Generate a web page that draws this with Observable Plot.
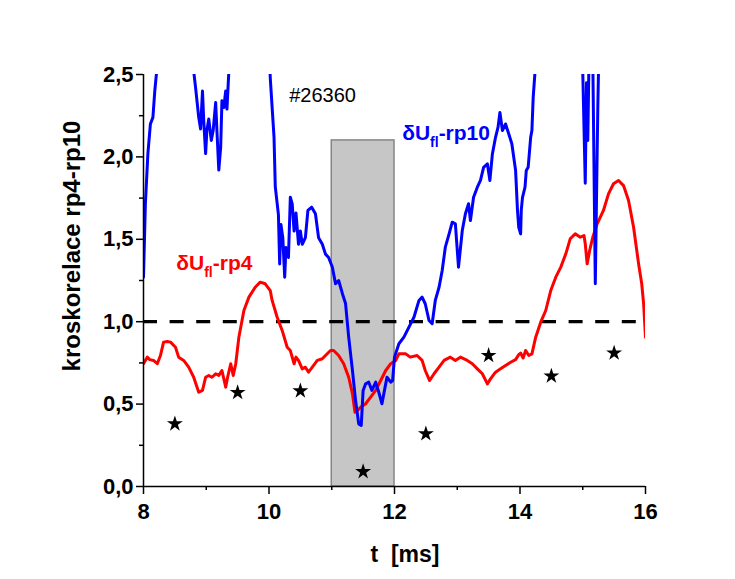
<!DOCTYPE html>
<html><head><meta charset="utf-8">
<script src="https://cdn.jsdelivr.net/npm/d3@7"></script>
<script src="https://cdn.jsdelivr.net/npm/@observablehq/plot@0.6"></script>
<style>
body{margin:0;background:#fff;}
svg{font-family:"Liberation Sans",Arial,sans-serif;}
</style></head><body><div id="chart"></div>
<script>
// red curve: δUfl-rp4
const redT = [8.00,8.06,8.10,8.16,8.22,8.27,8.32,8.38,8.43,8.51,8.56,8.64,8.72,8.80,8.88,8.94,8.99,9.04,9.09,9.15,9.20,9.25,9.31,9.34,9.39,9.43,9.47,9.52,9.60,9.68,9.78,9.86,9.94,10.02,10.05,10.13,10.21,10.29,10.34,10.40,10.43,10.47,10.53,10.58,10.63,10.69,10.77,10.85,10.90,10.98,11.03,11.11,11.19,11.27,11.33,11.37,11.41,11.46,11.54,11.62,11.70,11.78,11.86,11.94,12.02,12.07,12.18,12.25,12.36,12.44,12.49,12.56,12.63,12.71,12.79,12.89,12.97,13.05,13.16,13.24,13.32,13.40,13.48,13.53,13.61,13.69,13.77,13.85,13.93,13.98,14.01,14.05,14.09,14.14,14.19,14.25,14.33,14.41,14.49,14.57,14.65,14.73,14.80,14.88,14.96,15.02,15.04,15.07,15.11,15.16,15.23,15.28,15.33,15.41,15.49,15.57,15.65,15.73,15.81,15.89,15.94,15.97,16.00];
const redV = [0.745,0.785,0.770,0.765,0.745,0.795,0.876,0.880,0.876,0.845,0.785,0.765,0.724,0.663,0.572,0.583,0.663,0.674,0.663,0.684,0.674,0.704,0.603,0.663,0.745,0.674,0.745,0.906,1.068,1.149,1.209,1.240,1.230,1.189,1.129,1.027,0.947,0.845,0.825,0.745,0.785,0.765,0.714,0.724,0.694,0.724,0.765,0.775,0.795,0.825,0.825,0.795,0.745,0.663,0.562,0.451,0.461,0.481,0.502,0.542,0.583,0.643,0.704,0.745,0.765,0.805,0.805,0.785,0.795,0.765,0.704,0.643,0.684,0.724,0.765,0.785,0.765,0.785,0.765,0.745,0.714,0.684,0.623,0.653,0.694,0.714,0.734,0.754,0.770,0.800,0.810,0.780,0.825,0.795,0.805,0.906,0.997,1.068,1.189,1.270,1.331,1.412,1.503,1.533,1.513,1.523,1.473,1.351,1.432,1.513,1.594,1.634,1.675,1.776,1.837,1.857,1.826,1.735,1.573,1.351,1.230,1.109,0.906];
// blue curve: δUfl-rp10 (values above 2.5 run off the top of the frame)
const blueT = [8.00,8.03,8.07,8.11,8.15,8.18,8.21,8.25,8.76,8.80,8.83,8.88,8.91,8.94,8.96,8.99,9.01,9.04,9.08,9.11,9.15,9.17,9.20,9.23,9.25,9.28,9.31,9.33,9.36,9.40,9.98,10.02,10.08,10.10,10.15,10.17,10.19,10.22,10.25,10.27,10.31,10.34,10.37,10.40,10.43,10.47,10.50,10.53,10.58,10.62,10.68,10.74,10.79,10.85,10.90,10.95,11.01,11.06,11.11,11.17,11.22,11.27,11.33,11.38,11.43,11.47,11.50,11.54,11.59,11.64,11.70,11.75,11.80,11.85,11.88,11.94,11.97,12.00,12.07,12.15,12.23,12.31,12.39,12.44,12.49,12.55,12.60,12.65,12.71,12.76,12.81,12.87,12.92,12.97,13.02,13.08,13.13,13.18,13.21,13.26,13.32,13.37,13.42,13.48,13.52,13.56,13.61,13.65,13.68,13.72,13.77,13.82,13.87,13.93,13.96,13.98,14.01,14.02,14.04,14.08,14.10,14.13,14.17,14.19,14.21,14.24,14.28,14.98,15.00,15.04,15.06,15.08,15.10,15.13,15.16,15.20,15.24,15.27];
const blueV = [1.27,1.716,2.02,2.20,2.24,2.40,2.52,2.9,2.9,2.52,2.42,2.24,2.17,2.40,2.22,2.02,2.16,2.23,2.10,2.16,2.33,2.16,1.92,2.06,2.34,2.30,2.40,2.29,2.52,2.9,2.9,2.48,2.12,1.82,1.65,1.35,1.59,1.51,1.27,1.45,1.39,1.755,1.715,1.55,1.66,1.47,1.55,1.47,1.51,1.675,1.695,1.655,1.51,1.47,1.41,1.39,1.33,1.23,1.25,1.17,1.11,0.906,0.704,0.52,0.38,0.37,0.583,0.623,0.633,0.583,0.633,0.572,0.502,0.603,0.663,0.633,0.643,0.785,0.866,0.906,0.967,1.027,1.129,1.149,1.109,1.007,0.988,1.129,1.209,1.311,1.452,1.533,1.604,1.594,1.331,1.553,1.655,1.716,1.614,1.755,1.816,1.857,1.937,1.958,1.857,2.018,2.119,2.18,2.27,2.16,2.20,2.14,2.08,1.917,1.675,1.573,1.533,1.675,1.755,1.816,1.917,1.937,2.119,2.16,2.36,2.52,2.9,2.9,2.52,1.84,2.45,2.10,2.6,2.9,2.6,1.23,2.3,2.9];
// stars
const starT = [8.5,9.5,10.5,11.5,12.5,13.5,14.5,15.5];
const starV = [0.38,0.57,0.58,0.09,0.32,0.795,0.67,0.81];
// shaded interval
const shadeX1 = [11], shadeX2 = [12], shadeY2 = [2.1];
const refLevel = [1.0];
// ticks
const xTicks = [8,10,12,14,16];
const xMinor = [9,11,13,15];
const yTicks = [0,0.5,1.0,1.5,2.0,2.5];
const yMinor = [0.25,0.75,1.25,1.75,2.25];
// texts
const shotLabel = "#26360";
const yLabel = "kroskorelace rp4-rp10";
const xLabel = "t  [ms]";
const label10 = {t: 12.13, v: 2.10, main: "δU", sub: "fl", rest: "-rp10", color: "#0000ff"};
const label4 = {t: 8.53, v: 1.31, main: "δU", sub: "fl", rest: "-rp4", color: "#ff0000"};
const shotPos = {t: 10.33, v: 2.33};

const red = redT.map((t, i) => ({t, v: redV[i]}));
const blue = blueT.map((t, i) => ({t, v: blueV[i]}));
const stars = starT.map((t, i) => ({t, v: starV[i]}));
const shade = shadeX1.map((x1, i) => ({x1, x2: shadeX2[i], y1: 0, y2: shadeY2[i]}));
const fmt = d => d.toFixed(1).replace(".", ",");

const chart = Plot.plot({
  width: 735, height: 579,
  marginLeft: 143, marginRight: 90, marginTop: 74, marginBottom: 93,
  x: {domain: [8, 16]},
  y: {domain: [0, 2.5]},
  style: {fontFamily: "'Liberation Sans', Arial, sans-serif", background: "white", color: "black"},
  marks: [
    Plot.rect(shade, {x1: "x1", x2: "x2", y1: "y1", y2: "y2", fill: "#c6c6c6", stroke: "#858585", strokeWidth: 1.5}),
    Plot.ruleY(refLevel, {x1: 8, x2: 16, stroke: "black", strokeWidth: 3.2, strokeDasharray: "14,12.6"}),
    Plot.line(red, {x: "t", y: "v", stroke: "#ff0000", strokeWidth: 3, clip: true}),
    Plot.line(blue, {x: "t", y: "v", stroke: "#0000ff", strokeWidth: 3, clip: true}),
    Plot.dot(stars, {x: "t", y: "v", symbol: "star", fill: "black", stroke: "none", r: 5}),
    Plot.ruleX([8], {stroke: "black", strokeWidth: 1.5}),
    Plot.ruleY([0], {stroke: "black", strokeWidth: 1.5}),
    Plot.axisY(yTicks, {tickFormat: fmt, tickSize: 7, tickPadding: 3, fontSize: 22, fontWeight: "bold", label: null, strokeWidth: 1.5}),
    Plot.axisY(yMinor, {tickFormat: () => "", tickSize: 4, label: null, strokeWidth: 1.5}),
    Plot.axisX(xTicks, {tickFormat: d => String(d), tickSize: 8, tickPadding: 9, fontSize: 22, fontWeight: "bold", label: null, strokeWidth: 1.5}),
    Plot.axisX(xMinor, {tickFormat: () => "", tickSize: 4, label: null, strokeWidth: 1.5})
  ]
});
document.getElementById("chart").appendChild(chart);

const sx = chart.scale("x"), sy = chart.scale("y");
const svg = d3.select(chart);

function subLabel(L) {
  const t = svg.append("text")
    .attr("x", sx.apply(L.t)).attr("y", sy.apply(L.v))
    .attr("text-anchor", "start")
    .attr("fill", L.color).attr("font-weight", "bold").attr("font-size", 21);
  t.append("tspan").text(L.main);
  t.append("tspan").attr("font-size", 14).attr("dy", 7).text(L.sub);
  t.append("tspan").attr("dy", -7).text(L.rest);
}
subLabel(label10);
subLabel(label4);

svg.append("text")
  .attr("x", sx.apply(shotPos.t)).attr("y", sy.apply(shotPos.v))
  .attr("text-anchor", "start")
  .attr("font-size", 20).attr("fill", "black").text(shotLabel);

svg.append("text")
  .attr("transform", "translate(71,246) rotate(-90)")
  .attr("text-anchor", "middle").attr("dominant-baseline", "central")
  .attr("font-size", 24).attr("font-weight", "bold").attr("fill", "black")
  .text(yLabel);

svg.append("text")
  .attr("x", 405).attr("y", 562)
  .attr("text-anchor", "middle")
  .attr("font-size", 23).attr("font-weight", "bold").attr("fill", "black")
  .attr("xml:space", "preserve").style("white-space", "pre")
  .text(xLabel);
</script></body></html>
